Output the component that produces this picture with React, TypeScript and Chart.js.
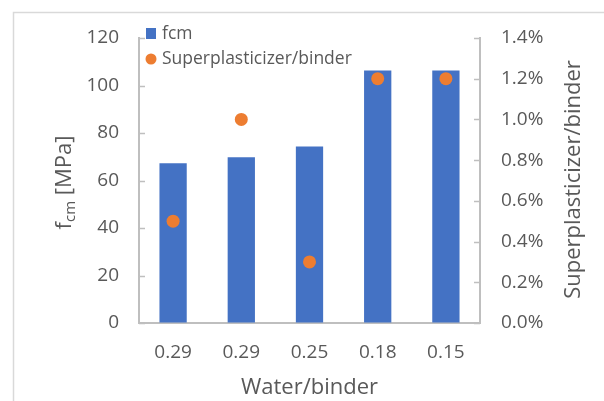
import React, { useEffect, useRef } from "react";
import { Chart, registerables } from "chart.js";

Chart.register(...registerables);

// ---- data ----
const categories: string[] = ["0.29", "0.29", "0.25", "0.18", "0.15"];
const fcmValues: number[] = [67.3, 69.8, 74.3, 106.3, 106.3];
const spValues: number[] = [0.005, 0.01, 0.003, 0.012, 0.012];
const leftAxis = { min: 0, max: 120, step: 20 };
const rightAxis = { min: 0, max: 0.014, step: 0.002 };
const seriesNames: string[] = ["fcm", "Superplasticizer/binder"];
const xTitle = "Water/binder";
const rightTitle = "Superplasticizer/binder";
const leftTitleParts = { main: "f", sub: "cm", rest: " [MPa]" };

// ---- style ----
const TEXT = "#595959";
const AXIS = "#BFBFBF";
const FRAME = "#D9D9D9";
const BLUE = "#4472C4";
const ORANGE = "#ED7D31";
const FONT = "'Open Sans', sans-serif";

const decor = {
  id: "decor",
  beforeDraw(chart: any) {
    const { ctx } = chart;
    ctx.save();
    ctx.strokeStyle = FRAME;
    ctx.lineWidth = 1.5;
    ctx.strokeRect(13.5, 12.5, 800, 600);
    ctx.restore();
  },
  afterDraw(chart: any) {
    const { ctx, chartArea: a, scales } = chart;
    ctx.save();
    // inward tick marks
    ctx.strokeStyle = AXIS;
    ctx.lineWidth = 1.5;
    scales.y.ticks.forEach((t: any) => {
      const p = Math.round(scales.y.getPixelForValue(t.value)) + 0.5;
      ctx.beginPath();
      ctx.moveTo(a.left, p);
      ctx.lineTo(a.left + 6, p);
      ctx.stroke();
    });
    scales.y1.ticks.forEach((t: any) => {
      const p = Math.round(scales.y1.getPixelForValue(t.value)) + 0.5;
      ctx.beginPath();
      ctx.moveTo(a.right - 6, p);
      ctx.lineTo(a.right, p);
      ctx.stroke();
    });

    // legend
    const ds = chart.data.datasets;
    ctx.fillStyle = ds[0].backgroundColor;
    ctx.fillRect(a.left + 7, a.top - 10, 10, 11);
    ctx.fillStyle = ds[1].backgroundColor;
    ctx.beginPath();
    ctx.arc(a.left + 12, a.top + 21, 5.5, 0, Math.PI * 2);
    ctx.fill();
    ctx.fillStyle = TEXT;
    ctx.font = `17.5px ${FONT}`;
    ctx.textAlign = "left";
    ctx.textBaseline = "middle";
    ctx.fillText(ds[0].label, a.left + 23, a.top - 4);
    ctx.fillText(ds[1].label, a.left + 23, a.top + 21);

    // x title
    ctx.font = `22px ${FONT}`;
    ctx.textAlign = "center";
    ctx.fillText(xTitle, (a.left + a.right) / 2, a.bottom + 65);

    // right title
    const cy = (a.top + a.bottom) / 2;
    ctx.save();
    ctx.translate(a.right + 94, cy - 1);
    ctx.rotate(-Math.PI / 2);
    ctx.font = `22px ${FONT}`;
    ctx.textAlign = "center";
    ctx.fillText(rightTitle, 0, 0);
    ctx.restore();

    // left title with subscript
    ctx.save();
    ctx.translate(a.left - 76, cy + 2);
    ctx.rotate(-Math.PI / 2);
    const mainFont = `22px ${FONT}`;
    const subFont = `15px ${FONT}`;
    ctx.font = mainFont;
    const w1 = ctx.measureText(leftTitleParts.main).width;
    const w3 = ctx.measureText(leftTitleParts.rest).width;
    ctx.font = subFont;
    const w2 = ctx.measureText(leftTitleParts.sub).width;
    let x = -(w1 + w2 + w3) / 2;
    ctx.textAlign = "left";
    ctx.textBaseline = "alphabetic";
    ctx.font = mainFont;
    ctx.fillText(leftTitleParts.main, x, 8);
    x += w1;
    ctx.font = subFont;
    ctx.fillText(leftTitleParts.sub, x, 12);
    x += w2;
    ctx.font = mainFont;
    ctx.fillText(leftTitleParts.rest, x, 8);
    ctx.restore();

    ctx.restore();
  },
};

export default function App() {
  const ref = useRef<HTMLCanvasElement | null>(null);

  useEffect(() => {
    document.body.style.margin = "0";
    if (!ref.current) return;
    const chart = new Chart(ref.current, {
      type: "bar",
      data: {
        labels: categories,
        datasets: [
          {
            type: "bar",
            label: seriesNames[0],
            data: fcmValues,
            backgroundColor: BLUE,
            yAxisID: "y",
            barPercentage: 0.4,
            categoryPercentage: 1,
            order: 2,
          },
          {
            type: "line",
            label: seriesNames[1],
            data: spValues,
            backgroundColor: ORANGE,
            borderColor: ORANGE,
            showLine: false,
            pointRadius: 6.5,
            pointHoverRadius: 6.5,
            pointBorderWidth: 0,
            yAxisID: "y1",
            order: 1,
          },
        ],
      } as any,
      options: {
        animation: false,
        responsive: true,
        maintainAspectRatio: false,
        layout: { padding: { top: 38, left: 0, right: 0, bottom: 0 } },
        plugins: {
          legend: { display: false },
          tooltip: { enabled: false },
        },
        scales: {
          x: {
            grid: { display: false, drawTicks: false },
            border: { display: true, color: AXIS, width: 2 },
            ticks: {
              color: TEXT,
              font: { family: FONT, size: 19 },
              padding: 18,
              maxRotation: 0,
            },
            afterFit: (s: any) => {
              s.height = 78;
            },
          },
          y: {
            position: "left",
            min: leftAxis.min,
            max: leftAxis.max,
            ticks: {
              stepSize: leftAxis.step,
              color: TEXT,
              font: { family: FONT, size: 19 },
              padding: 20,
            },
            grid: { drawOnChartArea: false, drawTicks: false },
            border: { display: true, color: AXIS, width: 2 },
            afterFit: (s: any) => {
              s.width = 139;
            },
          },
          y1: {
            position: "right",
            min: rightAxis.min,
            max: rightAxis.max,
            ticks: {
              stepSize: rightAxis.step,
              color: TEXT,
              font: { family: FONT, size: 19 },
              padding: 21,
              callback: (v: any) => (Number(v) * 100).toFixed(1) + "%",
            },
            grid: { drawOnChartArea: false, drawTicks: false },
            border: { display: true, color: AXIS, width: 2 },
            afterFit: (s: any) => {
              s.width = 124;
            },
          },
        },
      } as any,
      plugins: [decor],
    });
    return () => chart.destroy();
  }, []);

  return (
    <div style={{ position: "relative", width: 604, height: 401, background: "#fff", overflow: "hidden" }}>
      <canvas ref={ref} />
    </div>
  );
}
